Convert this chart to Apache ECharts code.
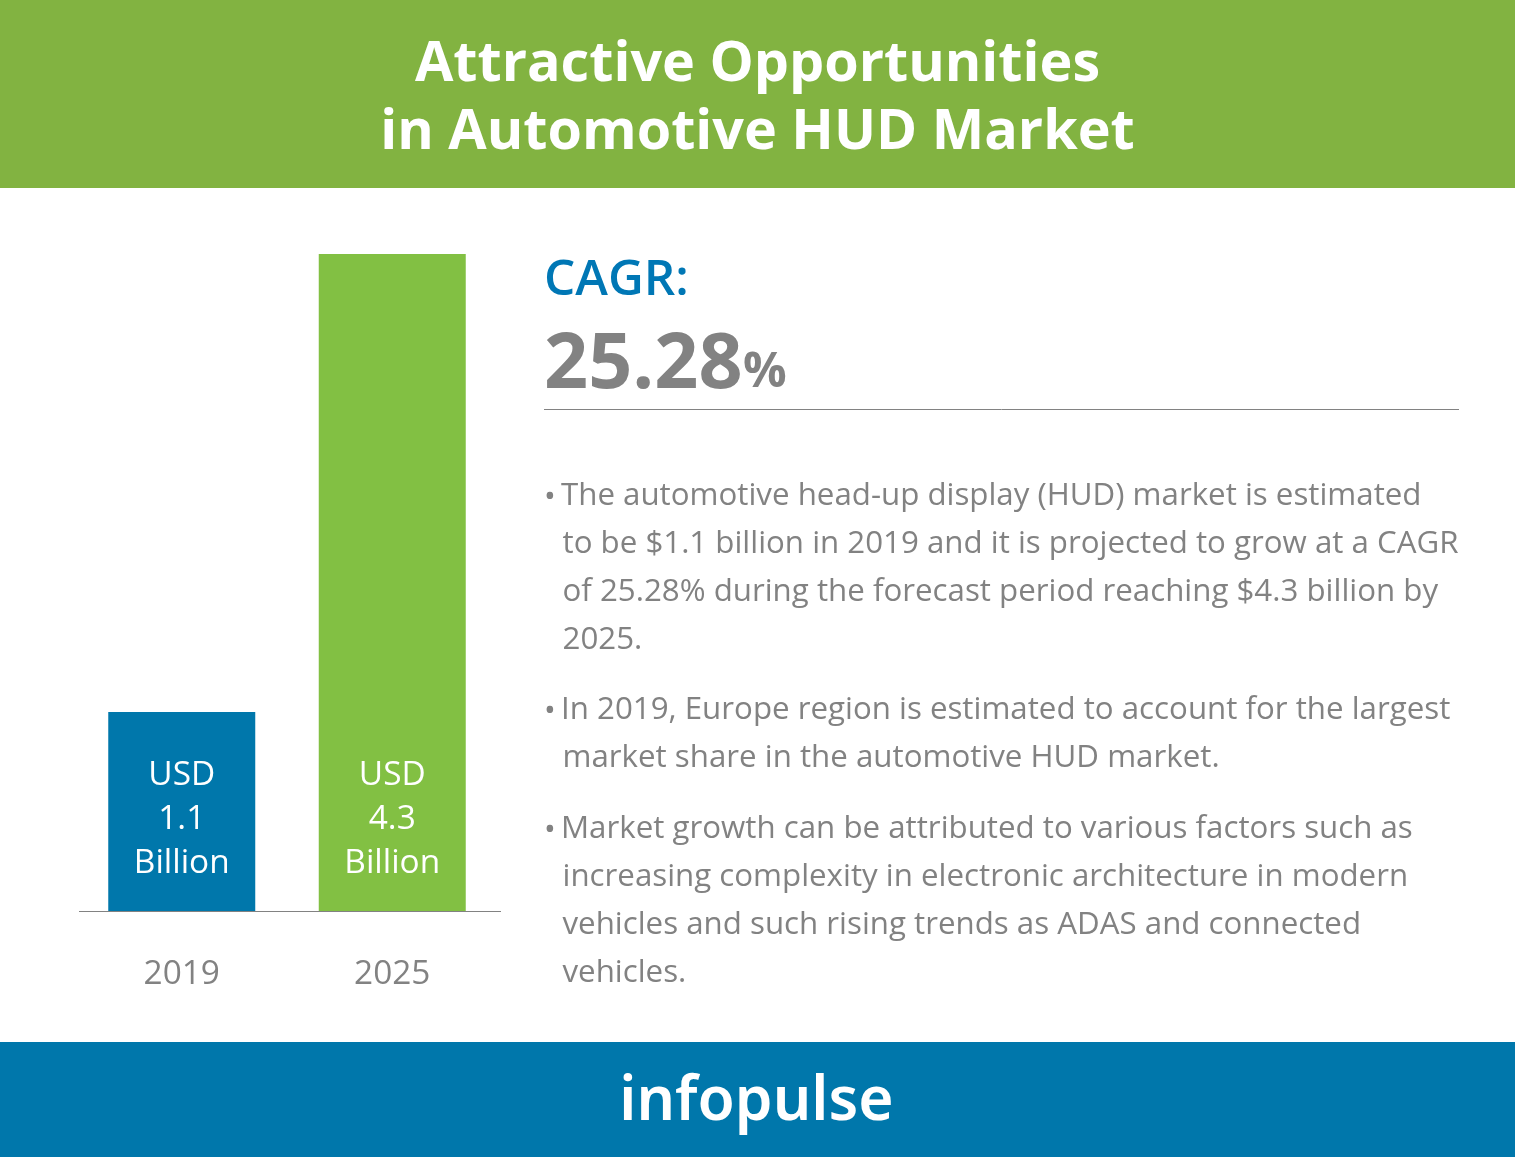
<!DOCTYPE html>
<html><head><meta charset="utf-8">
<style>html,body{margin:0;padding:0;background:#fff}#c{width:1515px;height:1157px}</style>
<script src="https://cdn.jsdelivr.net/npm/echarts@6/dist/echarts.min.js"></script>
</head><body><div id="c"></div>
<script>
const titleLines = ["Attractive Opportunities", "in Automotive HUD Market"];
const categories = ["2019", "2025"];
// Drawn bar heights (the source bars are not to scale with their printed labels)
const barHeights = [1.305, 4.3];
const printedValues = ["1.1", "4.3"];
const barColors = ["#0077ab", "#82c043"];
const cagrLabel = "CAGR:";
const cagrValue = "25.28";
const cagrUnit = "%";
const bodyLines = [
  ["•", 544, 498], ["The automotive head-up display (HUD) market is estimated", 561, 496.5],
  ["to be $1.1 billion in 2019 and it is projected to grow at a CAGR", 562.5, 544.5],
  ["of 25.28% during the forecast period reaching $4.3 billion by", 562.5, 592.5],
  ["2025.", 562.5, 640.5],
  ["•", 544, 712], ["In 2019, Europe region is estimated to account for the largest", 561, 710.5],
  ["market share in the automotive HUD market.", 562.5, 758.5],
  ["•", 544, 831], ["Market growth can be attributed to various factors such as", 561, 829.5],
  ["increasing complexity in electronic architecture in modern", 562.5, 877.5],
  ["vehicles and such rising trends as ADAS and connected", 562.5, 925.5],
  ["vehicles.", 562.5, 973.5]
];
const logoText = "infopulse";
const FONT = '"Open Sans"';
const GREY = "#828282";

const chart = echarts.init(document.getElementById("c"), null, {renderer: "canvas"});
const txt = (text, x, y, font, fill, align) => ({
  type: "text", silent: true,
  style: {text, x, y, font, fill, textAlign: align || "left", textVerticalAlign: "middle"}
});
chart.setOption({
  animation: false,
  backgroundColor: "#ffffff",
  title: {
    text: titleLines.join("\n"), left: 757.5, top: 31.5, textAlign: "center", padding: 0,
    textStyle: {color: "#fff", fontFamily: FONT, fontWeight: 700, fontSize: 55.7, lineHeight: 68, align: "center"}
  },
  grid: {left: 76.5, width: 421, top: 254, height: 657.5, containLabel: false},
  xAxis: {
    type: "category", data: categories,
    axisLine: {show: false}, axisTick: {show: false},
    axisLabel: {color: GREY, fontFamily: FONT, fontSize: 33.4, margin: 46.5}
  },
  yAxis: {type: "value", min: 0, max: 4.3, show: false, splitLine: {show: false}},
  series: [{
    type: "bar", barWidth: 147,
    data: barHeights.map((v, i) => ({value: v, itemStyle: {color: barColors[i]}})),
    label: {
      show: true, position: "insideBottom", distance: 26.5,
      color: "#fff", fontFamily: FONT, fontSize: 33.4, lineHeight: 44,
      formatter: p => "USD\n" + printedValues[p.dataIndex] + "\nBillion"
    }
  }],
  graphic: [
    {type: "rect", silent: true, shape: {x: 0, y: 0, width: 1515, height: 188}, style: {fill: "#82b341"}},
    {type: "rect", silent: true, shape: {x: 0, y: 1042, width: 1515, height: 115}, style: {fill: "#0077ab"}},
    {type: "line", silent: true, shape: {x1: 79, y1: 911.5, x2: 501, y2: 911.5}, style: {stroke: "#828282", lineWidth: 1}, z: 5},
    {type: "line", silent: true, shape: {x1: 544, y1: 409.5, x2: 1459, y2: 409.5}, style: {stroke: "#828282", lineWidth: 1}},
    txt(cagrLabel, 544, 281, `600 49.4px ${FONT}`, "#0077b5"),
    txt(cagrValue, 544, 366, `700 77.2px ${FONT}`, GREY),
    txt(cagrUnit, 743, 373, `700 48.5px ${FONT}`, GREY),
    ...bodyLines.map(l => txt(l[0], l[1], l[2], `400 31.27px ${FONT}`, GREY)),
    txt(logoText, 756.5, 1103, `600 60.5px "Noto Sans"`, "#fff", "center")
  ]
});
</script></body></html>
